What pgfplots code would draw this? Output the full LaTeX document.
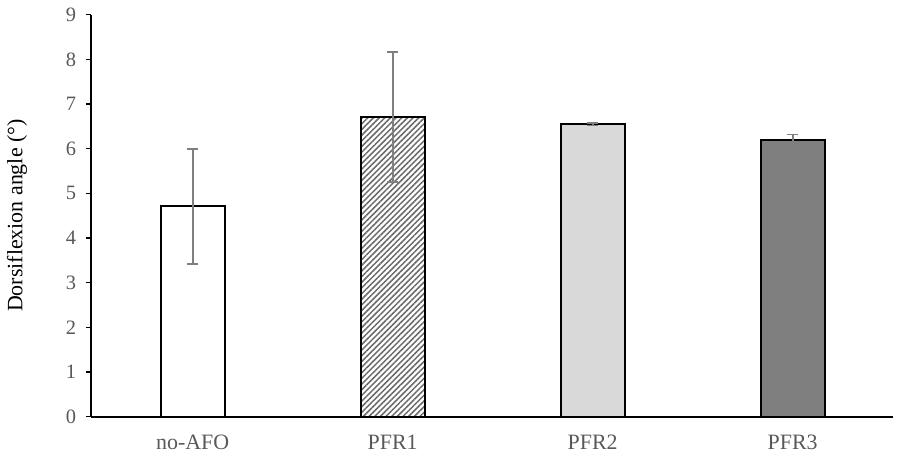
\documentclass[border=0pt]{standalone}
\usepackage{fontspec}
\setmainfont{Liberation Serif}
\usepackage{pgfplots}
\pgfplotsset{compat=1.18}
\usetikzlibrary{patterns.meta}
\definecolor{tickgray}{HTML}{595959}
\definecolor{errgray}{HTML}{7F7F7F}
\definecolor{hatchgray}{HTML}{6A6A6A}
\definecolor{lightfill}{HTML}{D9D9D9}
\definecolor{darkfill}{HTML}{7F7F7F}
\begin{document}
\begin{tikzpicture}
\useasboundingbox (0,0) rectangle (898bp,463bp);
\begin{axis}[
  at={(90.7bp,46.3bp)}, anchor=south west,
  scale only axis, width=802bp, height=402bp,
  xmin=-0.51, xmax=3.5, ymin=0, ymax=9,
  axis x line=bottom, axis y line=left,
  axis line style={-, line width=1.7bp, black},
  xtick={0,1,2,3}, xticklabels={no-AFO,PFR1,PFR2,PFR3},
  x tick style={draw=none},
  ytick={0,...,9},
  y tick style={line width=1.3bp, black},
  tick align=outside, major tick length=5bp,
  /pgf/number format/assume math mode=true,
  xticklabel style={font=\fontsize{22}{24}\selectfont, text=tickgray, yshift=-10bp},
  yticklabel style={font=\fontsize{20.5}{23}\selectfont, text=tickgray, xshift=-6bp},
  ylabel={Dorsiflexion angle (°)},
  every axis y label/.style={at={(axis description cs:-0.092,0.5)}, rotate=90, anchor=center,
    font=\fontsize{22}{24}\selectfont, text=black},
  clip=false,
]
\addplot[ybar, bar width=64bp, bar shift=0pt, draw=black, line width=1.8bp, fill=white,
  error bars/.cd, y dir=both, y explicit,
  error bar style={errgray, line width=1.6bp},
  error mark options={rotate=90, mark size=5.3bp, errgray, line width=1.6bp}]
  coordinates {(0,4.71) +- (0,1.29)};
\addplot[ybar, bar width=64bp, bar shift=0pt, draw=black, line width=1.8bp, fill=white,
  postaction={pattern={Lines[angle=45, distance=4bp, line width=1.5bp]}, pattern color=hatchgray},
  error bars/.cd, y dir=both, y explicit,
  error bar style={errgray, line width=1.6bp},
  error mark options={rotate=90, mark size=5.3bp, errgray, line width=1.6bp}]
  coordinates {(1,6.71) +- (0,1.45)};
\addplot[ybar, bar width=64bp, bar shift=0pt, draw=black, line width=1.8bp, fill=lightfill,
  error bars/.cd, y dir=both, y explicit,
  error bar style={errgray, line width=1.6bp},
  error mark options={rotate=90, mark size=5.3bp, errgray, line width=1.6bp}]
  coordinates {(2,6.55) +- (0,0.03)};
\addplot[ybar, bar width=64bp, bar shift=0pt, draw=black, line width=1.8bp, fill=darkfill,
  error bars/.cd, y dir=both, y explicit,
  error bar style={errgray, line width=1.6bp},
  error mark options={rotate=90, mark size=5.3bp, errgray, line width=1.6bp}]
  coordinates {(3,6.19) +- (0,0.13)};
\end{axis}
\end{tikzpicture}
\end{document}
